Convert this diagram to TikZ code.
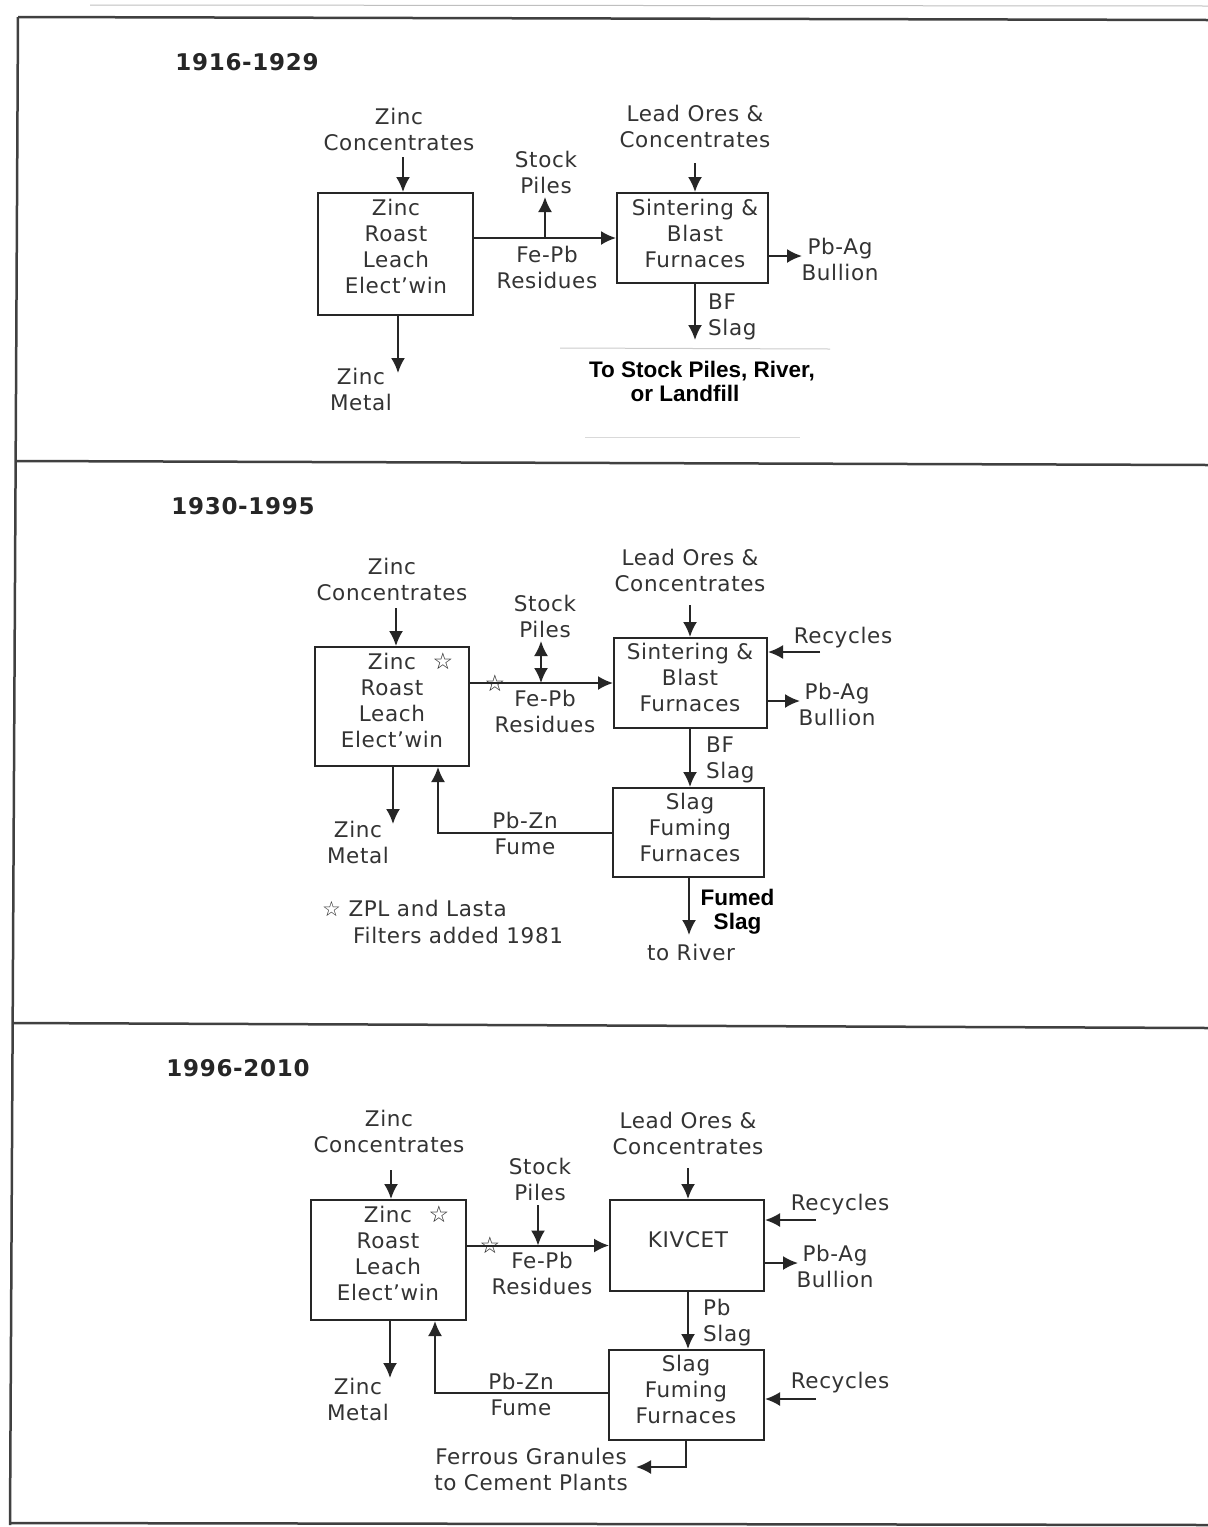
\documentclass[tikz,border=0pt]{standalone}
\usepackage{fontspec}
\setmainfont{DejaVu Sans}[LetterSpace=3]
\newfontfamily\lsans{Liberation Sans}
\newfontfamily\starfont{DejaVu Sans}
\usetikzlibrary{arrows.meta}
\definecolor{ink}{HTML}{333333}
\definecolor{lineink}{HTML}{262626}
\tikzset{
  lbl/.style={text=ink, align=center, inner sep=0pt, font=\fontsize{21.5}{26}\selectfont},
  lbll/.style={lbl, align=left, anchor=west},
  ttl/.style={text=black!85, inner sep=0pt, font=\fontsize{23}{26}\selectfont\bfseries},
  bold/.style={text=black, align=center, inner sep=0pt, font=\lsans\fontsize{22.5}{23.5}\selectfont\bfseries},
  box/.style={draw=lineink, line width=2pt, rectangle, inner sep=0pt},
  arr/.style={draw=lineink, line width=2pt, -{Latex[length=15pt,width=14pt]}},
  arrb/.style={draw=lineink, line width=2pt, {Latex[length=15pt,width=14pt]}-{Latex[length=15pt,width=14pt]}},
  frame/.style={draw=black!75, line width=2.5pt},
  starg/.style={text=black!85, inner sep=0pt, font=\starfont\fontsize{23}{23}\selectfont},
}
\begin{document}
\begin{tikzpicture}[x=1pt,y=-1pt]
\useasboundingbox (0,0) rectangle (1208,1527);
\fill[white] (0,0) rectangle (1208,1527);

% frame
\draw[black!25, line width=1pt] (90,5) -- (1208,6);
\draw[frame] (18,17) -- (1208,20);
\draw[frame] (18,17) -- (10,1525);
\draw[frame] (17,461) -- (1208,465);
\draw[frame] (13,1023) -- (1208,1028);
\draw[frame] (10,1523) -- (1208,1525);

% ================= Panel 1 =================
\node[ttl] (t1) at (247,62) {1916-1929};
\node[lbl] (zc1) at (399,129.5) {Zinc\\Concentrates};
\node[box, minimum width=155pt, minimum height=122pt] (zb1) at (395.5,254) {};
\node[lbl] (zb1t) at (396,246.5) {Zinc\\Roast\\Leach\\Elect'win};
\node[lbl] (lo1) at (695,126) {Lead Ores \&\\Concentrates};
\node[box, minimum width=151pt, minimum height=90pt] (sb1) at (692.5,238) {};
\node[lbl] (sb1t) at (695,233.5) {Sintering \&\\Blast\\Furnaces};
\node[lbl] (sp1l) at (546,172.5) {Stock\\Piles};
\node[lbl] (fe1) at (547,267.5) {Fe-Pb\\Residues};
\node[lbl] (pa1) at (840,259.5) {Pb-Ag\\Bullion};
\node[lbll] (bf1) at (708,316.5) {BF\\Slag};
\node[lbl] (zm1) at (361,389.5) {Zinc\\Metal};
\node[bold] (ts1) at (702,381.5) {To Stock Piles, River,\\or Landfill\hspace*{34pt}};

\coordinate (zc1a) at (403,157);
\coordinate (lo1a) at (695,163);
\coordinate (sp1b) at (545,238);
\coordinate (sp1t) at (545,197);
\coordinate (pa1e) at (802,256);
\coordinate (bf1e) at (695,340);
\coordinate (zm1e) at (398,373);
\draw[arr] (zc1a) -- (zc1a |- zb1.north);
\draw[arr] (lo1a) -- (lo1a |- sb1.north);
\draw[arr] (zb1.east |- sb1.west) -- (sb1.west);
\draw[arr] (sp1b) -- (sp1t);
\draw[arr] (pa1e -| sb1.east) -- (pa1e);
\draw[arr] (bf1e |- sb1.south) -- (bf1e);
\draw[arr] (zm1e |- zb1.south) -- (zm1e);
\draw[black!20, line width=1pt] (560,348) -- (830,349);
\draw[black!15, line width=1pt] (585,437) -- (800,437);

% ================= Panel 2 =================
\node[ttl] (t2) at (243,506) {1930-1995};
\node[lbl] (zc2) at (392,579) {Zinc\\Concentrates};
\node[box, minimum width=154pt, minimum height=119pt] (zb2) at (392,706.5) {};
\node[lbl] (zb2t) at (392,700) {Zinc\\Roast\\Leach\\Elect'win};
\node[starg] (st2a) at (443,661) {☆};
\node[lbl] (lo2) at (690,570) {Lead Ores \&\\Concentrates};
\node[box, minimum width=153pt, minimum height=90pt] (sb2) at (690.5,683) {};
\node[lbl] (sb2t) at (690,677.5) {Sintering \&\\Blast\\Furnaces};
\node[lbl] (sp2l) at (545,616) {Stock\\Piles};
\node[lbl] (fe2) at (545,711) {Fe-Pb\\Residues};
\node[lbl] (rc2l) at (843,638) {Recycles};
\node[lbl] (pa2) at (837,704) {Pb-Ag\\Bullion};
\node[lbll] (bf2) at (706,760) {BF\\Slag};
\node[box, minimum width=151pt, minimum height=89pt] (ff2) at (688.5,832.5) {};
\node[lbl] (ff2t) at (690,827.5) {Slag\\Fuming\\Furnaces};
\node[bold] (fs2) at (737.5,911.5) {Fumed\\Slag};
\node[lbl] (tr2) at (691,952) {to River};
\node[lbl] (pz2) at (525,833.5) {Pb-Zn\\Fume};
\node[lbl] (zm2) at (358,842.5) {Zinc\\Metal};
\node[lbl, anchor=west] (nt2a) at (322,908) {{\starfont\fontsize{21}{21}\selectfont ☆} ZPL and Lasta};
\node[lbl, anchor=west] (nt2b) at (353,935) {Filters added 1981};

\coordinate (zc2a) at (396,608);
\coordinate (lo2a) at (690,605);
\coordinate (sp2t) at (541,641);
\coordinate (rc2) at (820,652);
\coordinate (pa2e) at (800,701);
\coordinate (fs2e) at (689,935);
\coordinate (fb2) at (438,832.5);
\coordinate (zm2e) at (393,824);
\draw[arr] (zc2a) -- (zc2a |- zb2.north);
\draw[arr] (lo2a) -- (lo2a |- sb2.north);
\draw[arr] (zb2.east |- sb2.west) -- (sb2.west);
\node[starg] (st2b) at (495,683) {☆};
\draw[arrb] (sp2t) -- (sp2t |- sb2.west);
\draw[arr] (rc2) -- (rc2 -| sb2.east);
\draw[arr] (pa2e -| sb2.east) -- (pa2e);
\draw[arr] (lo2a |- sb2.south) -- (lo2a |- ff2.north);
\draw[arr] (fs2e |- ff2.south) -- (fs2e);
\draw[arr] (ff2.west) -- (fb2) -- (fb2 |- zb2.south);
\draw[arr] (zm2e |- zb2.south) -- (zm2e);

% ================= Panel 3 =================
\node[ttl] (t3) at (238,1068) {1996-2010};
\node[lbl] (zc3) at (389,1131) {Zinc\\Concentrates};
\node[box, minimum width=155pt, minimum height=120pt] (zb3) at (388.5,1260) {};
\node[lbl] (zb3t) at (388,1253) {Zinc\\Roast\\Leach\\Elect'win};
\node[starg] (st3a) at (439,1214) {☆};
\node[lbl] (lo3) at (688,1133) {Lead Ores \&\\Concentrates};
\node[box, minimum width=154pt, minimum height=91pt] (kv3) at (687,1245.5) {};
\node[lbl] (kv3t) at (688,1240) {KIVCET};
\node[lbl] (sp3l) at (540,1179) {Stock\\Piles};
\node[lbl] (fe3) at (542,1273) {Fe-Pb\\Residues};
\node[lbl] (rc3l) at (840,1205) {Recycles};
\node[lbl] (pa3) at (835,1266) {Pb-Ag\\Bullion};
\node[lbll] (ps3) at (703,1323) {Pb\\Slag};
\node[box, minimum width=155pt, minimum height=90pt] (ff3) at (686.5,1395) {};
\node[lbl] (ff3t) at (686,1389) {Slag\\Fuming\\Furnaces};
\node[lbl] (rc3m) at (840,1383) {Recycles};
\node[lbl] (fg3) at (531,1469) {Ferrous Granules\\to Cement Plants};
\node[lbl] (pz3) at (521,1394.5) {Pb-Zn\\Fume};
\node[lbl] (zm3) at (358,1399) {Zinc\\Metal};

\coordinate (zc3a) at (391,1170);
\coordinate (lo3a) at (688,1168);
\coordinate (sp3t) at (538,1205);
\coordinate (rc3) at (816,1220);
\coordinate (pa3e) at (798,1263);
\coordinate (rc3b) at (816,1399);
\coordinate (fg3c) at (686,1467);
\coordinate (fg3e) at (636,1467);
\coordinate (fb3) at (435,1393);
\coordinate (zm3e) at (390,1378);
\draw[arr] (zc3a) -- (zc3a |- zb3.north);
\draw[arr] (lo3a) -- (lo3a |- kv3.north);
\draw[arr] (zb3.east |- kv3.west) -- (kv3.west);
\node[starg] (st3b) at (490,1245) {☆};
\draw[arr] (sp3t) -- (sp3t |- kv3.west);
\draw[arr] (rc3) -- (rc3 -| kv3.east);
\draw[arr] (pa3e -| kv3.east) -- (pa3e);
\draw[arr] (lo3a |- kv3.south) -- (lo3a |- ff3.north);
\draw[arr] (rc3b) -- (rc3b -| ff3.east);
\draw[arr] (fg3c |- ff3.south) -- (fg3c) -- (fg3e);
\draw[arr] (fb3 -| ff3.west) -- (fb3) -- (fb3 |- zb3.south);
\draw[arr] (zm3e |- zb3.south) -- (zm3e);
\end{tikzpicture}
\end{document}
